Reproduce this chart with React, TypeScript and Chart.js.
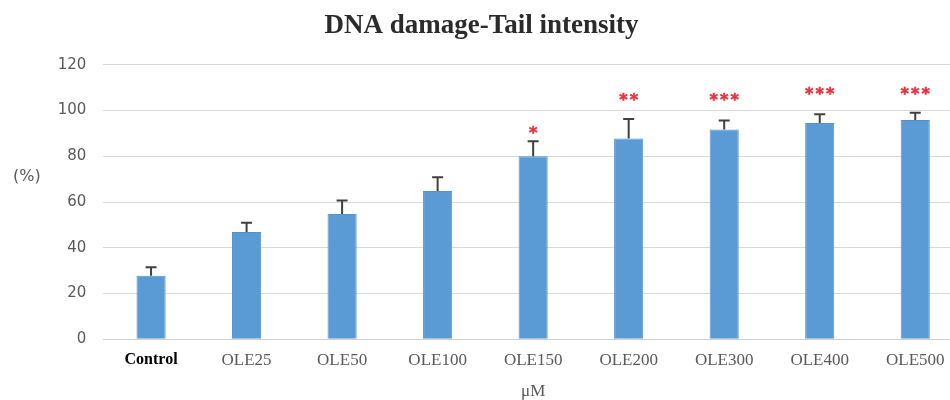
import React, { useEffect, useRef } from "react";
import { Chart, registerables } from "chart.js";

Chart.register(...registerables);

const categories = ["Control", "OLE25", "OLE50", "OLE100", "OLE150", "OLE200", "OLE300", "OLE400", "OLE500"];
const meanValues = [27.8, 46.9, 54.8, 64.8, 80.0, 87.8, 91.7, 94.5, 95.8];
const errorValues = [3.7, 4.0, 5.9, 6.0, 6.6, 8.5, 3.9, 3.9, 3.2];
const significance = ["", "", "", "", "*", "**", "***", "***", "***"];
const significanceLevel = [0, 0, 0, 0, 91.5, 105.9, 106.0, 108.6, 108.6];
const yTicks = [0, 20, 40, 60, 80, 100, 120];

const errorBarPlugin = {
  id: "errorBars",
  afterDatasetsDraw(chart: any) {
    const ctx = chart.ctx;
    const meta = chart.getDatasetMeta(0);
    const yScale = chart.scales.y;
    ctx.save();
    ctx.strokeStyle = "#404040";
    ctx.lineWidth = 2;
    meta.data.forEach((bar: any, i: number) => {
      const x = bar.x;
      const yTop = yScale.getPixelForValue(meanValues[i] + errorValues[i]);
      const yMid = yScale.getPixelForValue(meanValues[i]);
      ctx.beginPath();
      ctx.moveTo(x, yMid);
      ctx.lineTo(x, yTop);
      ctx.moveTo(x - 5.5, yTop);
      ctx.lineTo(x + 5.5, yTop);
      ctx.stroke();
    });
    // significance stars
    ctx.fillStyle = "#e8333c";
    ctx.strokeStyle = "#e8333c";
    ctx.lineWidth = 0.6;
    ctx.font = "bold 16px 'DejaVu Sans'";
    ctx.textAlign = "center";
    ctx.textBaseline = "alphabetic";
    const m = ctx.measureText("*");
    const centerOffset = (m.actualBoundingBoxDescent - m.actualBoundingBoxAscent) / 2;
    const pitch = 10.5;
    meta.data.forEach((bar: any, i: number) => {
      const s = significance[i];
      if (!s) return;
      const y = yScale.getPixelForValue(significanceLevel[i]) - centerOffset;
      const n = s.length;
      for (let k = 0; k < n; k++) {
        const x = bar.x + (k - (n - 1) / 2) * pitch;
        ctx.fillText("*", x, y);
        ctx.strokeText("*", x, y);
      }
    });
    // y axis unit label
    const ca = chart.chartArea;
    ctx.fillStyle = "#595959";
    ctx.font = "16px 'DejaVu Sans'";
    ctx.textAlign = "left";
    ctx.textBaseline = "middle";
    ctx.fillText("(%)", 13, ca.top + (ca.bottom - ca.top) * 0.41);
    ctx.restore();
  },
};

export default function App() {
  const canvasRef = useRef<HTMLCanvasElement | null>(null);

  useEffect(() => {
    if (!canvasRef.current) return;
    const chart = new Chart(canvasRef.current, {
      type: "bar",
      data: {
        labels: categories,
        datasets: [
          {
            data: meanValues,
            backgroundColor: "#5b9bd5",
            borderColor: "#5592cc",
            borderWidth: 1,
            categoryPercentage: 1,
            barPercentage: 0.305,
          },
        ],
      },
      options: {
        responsive: false,
        animation: false,
        devicePixelRatio: 1,
        layout: { padding: { left: 0, right: 9, top: 0, bottom: 0 } },
        plugins: {
          legend: { display: false },
          tooltip: { enabled: false },
          title: {
            display: true,
            text: "DNA damage-Tail intensity",
            color: "#2b2b2b",
            font: { family: "'Liberation Serif'", size: 27, weight: "bold", lineHeight: 1.2 },
            padding: { top: 10, bottom: 22.3 },
          },
        },
        scales: {
          x: {
            grid: { display: false, drawTicks: false },
            border: { display: true, color: "#d0d0d0", width: 1 },
            ticks: {
              padding: 11,
              color: (c: any) => (c.index === 0 ? "#000000" : "#595959"),
              font: (c: any) =>
                c.index === 0
                  ? { family: "'Liberation Serif'", size: 16, weight: "bold" }
                  : { family: "'Liberation Serif'", size: 17, weight: "normal" },
            },
            title: {
              display: true,
              text: "μM",
              color: "#595959",
              font: { family: "'Liberation Serif'", size: 17 },
              padding: { top: 0, bottom: -2 },
            },
            afterFit(scale: any) {
              scale.height = 60.7;
            },
          },
          y: {
            min: 0,
            max: 120,
            afterBuildTicks(scale: any) {
              scale.ticks = yTicks.map((v) => ({ value: v }));
            },
            grid: { color: "#d9d9d9", lineWidth: 1, drawTicks: false },
            border: { display: false },
            ticks: {
              padding: 17,
              color: "#595959",
              font: { family: "'DejaVu Sans'", size: 15 },
            },
            afterFit(scale: any) {
              scale.width = 103.3;
            },
          },
        },
      },
      plugins: [errorBarPlugin],
    });
    return () => chart.destroy();
  }, []);

  return (
    <div
      style={{
        position: "fixed",
        left: 0,
        top: 0,
        width: 950,
        height: 400,
        overflow: "hidden",
        background: "#ffffff",
      }}
    >
      <canvas ref={canvasRef} width={972} height={400} style={{ display: "block" }} />
    </div>
  );
}
